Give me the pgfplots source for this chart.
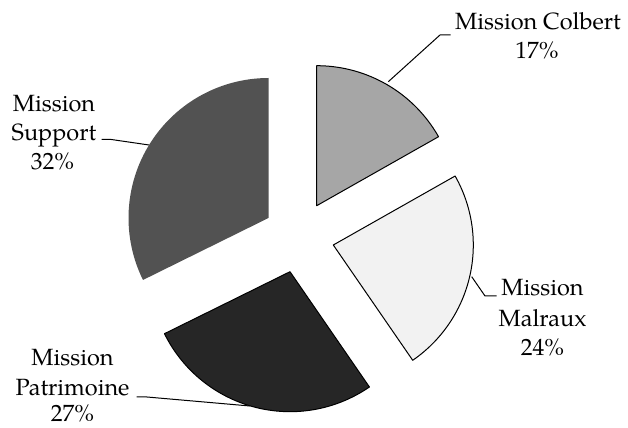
\documentclass[border=0pt]{standalone}
\usepackage{fontspec}
\setmainfont[Extension=.otf,UprightFont=*-regular]{texgyrepagella}
\usepackage{pgfplots}
\pgfplotsset{compat=1.18}
\definecolor{cColbert}{HTML}{A6A6A6}
\definecolor{cMalraux}{HTML}{F2F2F2}
\definecolor{cPatrimoine}{HTML}{262626}
\definecolor{cSupport}{HTML}{525252}
% shares (percent)
\def\vColbert{16.8}
\def\vMalraux{23.6}
\def\vPatrimoine{27.3}
\def\vSupport{32.3}
\pgfmathsetmacro\aA{90}
\pgfmathsetmacro\aB{\aA-3.6*\vColbert}
\pgfmathsetmacro\aC{\aB-3.6*\vMalraux}
\pgfmathsetmacro\aD{\aC-3.6*\vPatrimoine}
\pgfmathsetmacro\aE{\aD-3.6*\vSupport}
\def\R{140}
\newcommand\lbl{\fontsize{23.5bp}{29bp}\selectfont}
\begin{document}
\begin{tikzpicture}
\begin{axis}[hide axis, scale only axis, width=628bp, height=428bp,
  xmin=0, xmax=628, ymin=0, ymax=428, clip=false,
  at={(0,0)}, anchor=south west]
% Colbert
\addplot[fill=cColbert, draw=black, line width=1bp, line join=round, domain=\aB:\aA, samples=60, variable=\t]
  ({316.7+\R*cos(\t)},{222.3+\R*sin(\t)}) -- (axis cs:316.7,222.3) -- cycle;
% Malraux
\addplot[fill=cMalraux, draw=black, line width=1bp, line join=round, domain=\aC:\aB, samples=60, variable=\t]
  ({333.3+\R*cos(\t)},{183+\R*sin(\t)}) -- (axis cs:333.3,183) -- cycle;
% Patrimoine
\addplot[fill=cPatrimoine, draw=black, line width=1bp, line join=round, domain=\aD:\aC, samples=60, variable=\t]
  ({290+\R*cos(\t)},{156.3+\R*sin(\t)}) -- (axis cs:290,156.3) -- cycle;
% Support
\addplot[fill=cSupport, draw=none, domain=\aE:\aD, samples=60, variable=\t]
  ({268.5+\R*cos(\t)},{210+\R*sin(\t)}) -- (axis cs:268.5,210) -- cycle;
% leader lines
\addplot[black, line width=1bp] coordinates {(388.3,346.3) (440,393) (450.7,393)};
\addplot[black, line width=1bp] coordinates {(471.7,151.3) (485,132) (496.7,132)};
\addplot[black, line width=1bp] coordinates {(101.7,288.7) (110,288.7) (149,283)};
\addplot[black, line width=1bp] coordinates {(136.7,31) (147,31) (250,22)};
% labels
\node[anchor=base, inner sep=0pt] at (axis cs:538,398) {\lbl Mission Colbert};
\node[anchor=base, inner sep=0pt] at (axis cs:537,369.7) {\lbl 17\%};
\node[anchor=base, inner sep=0pt] at (axis cs:542.5,132) {\lbl Mission};
\node[anchor=base, inner sep=0pt] at (axis cs:542.5,101.3) {\lbl Malraux};
\node[anchor=base, inner sep=0pt] at (axis cs:542.5,72) {\lbl 24\%};
\node[anchor=base, inner sep=0pt] at (axis cs:54,316.3) {\lbl Mission};
\node[anchor=base, inner sep=0pt] at (axis cs:54,287.3) {\lbl Support};
\node[anchor=base, inner sep=0pt] at (axis cs:52.5,258.7) {\lbl 32\%};
\node[anchor=base, inner sep=0pt] at (axis cs:72.5,62) {\lbl Mission};
\node[anchor=base, inner sep=0pt] at (axis cs:72.5,32.5) {\lbl Patrimoine};
\node[anchor=base, inner sep=0pt] at (axis cs:72.5,6.5) {\lbl 27\%};
\end{axis}
\pgfresetboundingbox
\useasboundingbox (0,0) rectangle (628bp,428bp);
\end{tikzpicture}
\end{document}
